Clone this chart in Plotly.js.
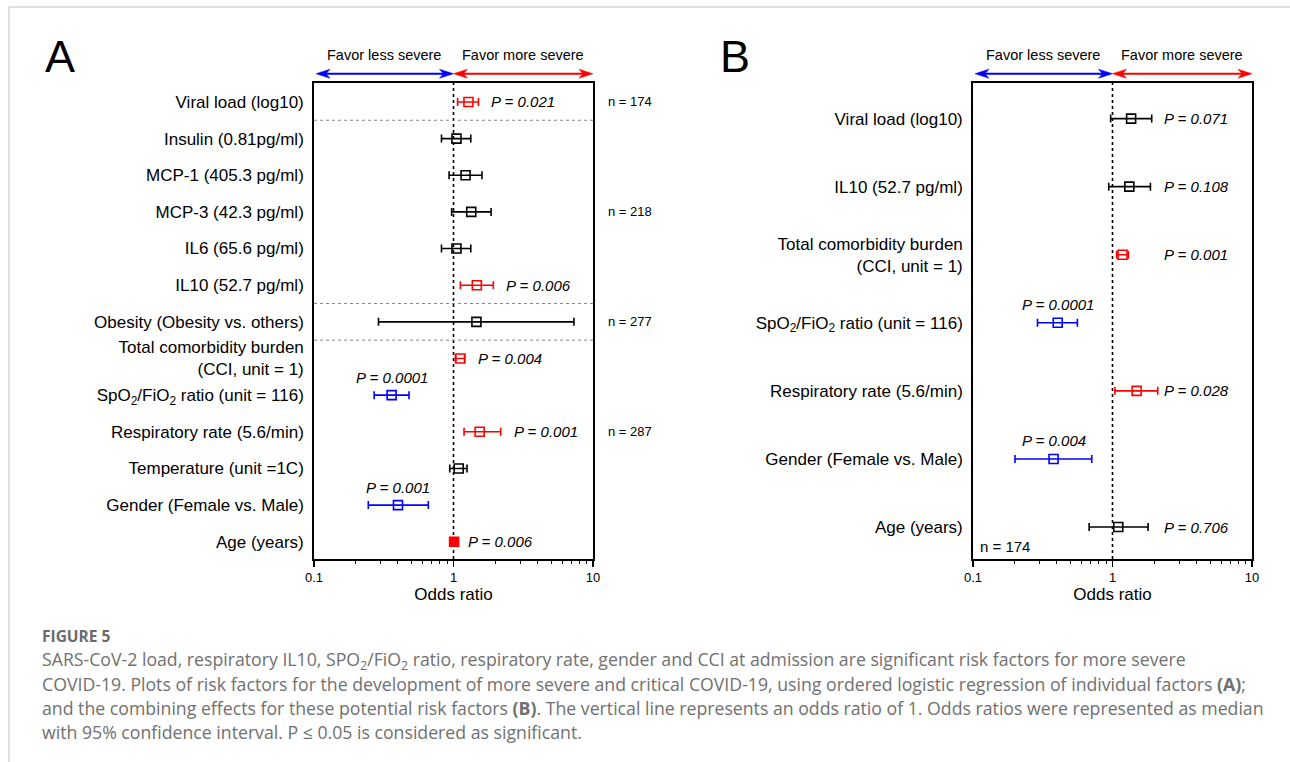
<!DOCTYPE html>
<html>
<head>
<meta charset="utf-8">
<script src="https://cdn.plot.ly/plotly-3.0.1.min.js"></script>
<style>html,body{margin:0;padding:0;background:#fff;}#chart{width:1290px;height:762px;}</style>
</head>
<body>
<div id="chart"></div>
<script>
// ---------- Data: Panel A (individual factors) ----------
const catA = [
  "Viral load (log10)",
  "Insulin (0.81pg/ml)",
  "MCP-1 (405.3 pg/ml)",
  "MCP-3 (42.3 pg/ml)",
  "IL6 (65.6 pg/ml)",
  "IL10 (52.7 pg/ml)",
  "Obesity (Obesity vs. others)",
  "Total comorbidity burden<br>(CCI, unit = 1)",
  "SpO<sub>2</sub>/FiO<sub>2</sub> ratio (unit = 116)",
  "Respiratory rate (5.6/min)",
  "Temperature (unit =1C)",
  "Gender (Female vs. Male)",
  "Age (years)"
];
const orA = [1.28, 1.05, 1.22, 1.34, 1.05, 1.47, 1.46, 1.12, 0.36, 1.54, 1.09, 0.40, 1.01];
const loA = [1.07, 0.82, 0.93, 0.97, 0.82, 1.12, 0.29, 1.03, 0.27, 1.19, 0.94, 0.245, 0.99];
const hiA = [1.51, 1.33, 1.60, 1.86, 1.33, 1.93, 7.30, 1.20, 0.48, 2.18, 1.25, 0.66, 1.03];
const pA  = ["0.021", "", "", "", "", "0.006", "", "0.004", "0.0001", "0.001", "", "0.001", "0.006"];
const nRowsA = ["Viral load (log10)", "MCP-3 (42.3 pg/ml)", "Obesity (Obesity vs. others)", "Respiratory rate (5.6/min)"];
const nValsA = [174, 218, 277, 287];

// ---------- Data: Panel B (combined model) ----------
const catB = [
  "Viral load (log10)",
  "IL10 (52.7 pg/ml)",
  "Total comorbidity burden<br>(CCI, unit = 1)",
  "SpO<sub>2</sub>/FiO<sub>2</sub> ratio (unit = 116)",
  "Respiratory rate (5.6/min)",
  "Gender (Female vs. Male)",
  "Age (years)"
];
const orB = [1.36, 1.32, 1.18, 0.405, 1.49, 0.378, 1.10];
const loB = [0.97, 0.94, 1.07, 0.29, 1.04, 0.20, 0.68];
const hiB = [1.91, 1.87, 1.30, 0.56, 2.11, 0.71, 1.80];
const pB  = ["0.071", "0.108", "0.001", "0.0001", "0.028", "0.004", "0.706"];
const nB = 174;

const xTicks = [0.1, 1, 10];
const xTickText = ["0.1", "1", "10"];

// ---------- Helpers ----------
const W = 1290, H = 762;
const px = v => v / W;
const py = v => 1 - v / H;
const FONT = "Liberation Sans, Arial, sans-serif";
const AX = {x: [314, 593], x2: [973, 1252]};   // plot box pixel extents
function colorFor(p, or) {
  const v = parseFloat(p);
  if (!isNaN(v) && v <= 0.05) return or > 1 ? "#ff0000" : "#0000ff";
  return "#000000";
}
const minorVals = [];
[0.1, 1].forEach(d => { for (let k = 2; k <= 9; k++) minorVals.push(d * k); });

const traces = [];
const annotations = [];
const shapes = [];

function valToPx(xa, v) {
  const [a, b] = AX[xa];
  return a + (Math.log10(v) + 1) / 2 * (b - a);
}
function arrow(x0, x1, y, col) {
  const L = 14, hw = 4.5;
  shapes.push({type: "line", xref: "paper", yref: "paper", x0: px(x0 + 4), x1: px(x1 - 4), y0: py(y), y1: py(y),
    line: {color: col, width: 2}});
  const tri = (tip, dir) => "M" + px(tip) + "," + py(y) + " L" + px(tip + dir * L) + "," + py(y - hw) +
    " L" + px(tip + dir * (L - 4)) + "," + py(y) + " L" + px(tip + dir * L) + "," + py(y + hw) + " Z";
  shapes.push({type: "path", xref: "paper", yref: "paper", path: tri(x0, 1), fillcolor: col, line: {color: col, width: 0.5}});
  shapes.push({type: "path", xref: "paper", yref: "paper", path: tri(x1, -1), fillcolor: col, line: {color: col, width: 0.5}});
}

function addPanel(cats, ors, los, his, ps, xa, ya, pColumn) {
  cats.forEach((c, i) => {
    const col = colorFor(ps[i], ors[i]);
    const tight = (his[i] - los[i]) / ors[i] < 0.06;   // very narrow CI: box drawn solid, as in the original
    traces.push({
      type: "scatter", mode: "markers",
      x: [ors[i]], y: [c], xaxis: xa, yaxis: ya,
      marker: {symbol: tight ? "square" : "square-open", size: 9, color: col, line: {width: 1.6, color: col}},
      error_x: {type: "data", symmetric: false, array: [his[i] - ors[i]], arrayminus: [ors[i] - los[i]],
                color: col, thickness: 1.6, width: 4},
      showlegend: false, hoverinfo: "x+y"
    });
    if (ps[i]) {
      const txt = "<i>P = " + ps[i] + "</i>";
      const f = {family: FONT, size: 15, color: "#000"};
      if (ors[i] < 1) {
        annotations.push({xref: xa, yref: ya, x: Math.log10(ors[i]), y: c, text: txt, showarrow: false,
          xanchor: "center", yanchor: "middle", yshift: 18, font: f});
      } else if (pColumn) {
        annotations.push({xref: xa, yref: ya, x: Math.log10(pColumn), y: c, text: txt, showarrow: false,
          xanchor: "left", yanchor: "middle", font: f});
      } else {
        annotations.push({xref: xa, yref: ya, x: Math.log10(his[i]), y: c, text: txt, showarrow: false,
          xanchor: "left", yanchor: "middle", xshift: 11, font: f});
      }
    }
  });
  // reference line at OR = 1
  shapes.push({type: "line", xref: xa, yref: ya + " domain", x0: 1, x1: 1, y0: 0, y1: 1,
               line: {color: "#000", width: 1.6, dash: "dot"}, layer: "below"});
  // favour arrows + labels
  const lo = valToPx(xa, 0.1), mid = valToPx(xa, 1), hi = valToPx(xa, 10);
  arrow(lo + 2, mid, 73.7, "#0000ff");
  arrow(mid, hi, 73.7, "#ff0000");
  annotations.push({xref: xa, yref: "paper", x: -0.5, y: py(55), text: "Favor less severe", showarrow: false,
    xanchor: "center", yanchor: "middle", font: {family: FONT, size: 14.5, color: "#000"}});
  annotations.push({xref: xa, yref: "paper", x: 0.5, y: py(55), text: "Favor more severe", showarrow: false,
    xanchor: "center", yanchor: "middle", font: {family: FONT, size: 14.5, color: "#000"}});
}

addPanel(catA, orA, loA, hiA, pA, "x", "y", null);
addPanel(catB, orB, loB, hiB, pB, "x2", "y2", 2.25);

// Separators in panel A
[0.5, 5.5, 6.5].forEach(v => shapes.push({type: "line", xref: "x domain", yref: "y", x0: 0, x1: 1, y0: v, y1: v,
  line: {color: "#888", width: 1, dash: "dot"}, layer: "below"}));

// n labels
nRowsA.forEach((r, i) => annotations.push({xref: "paper", yref: "y", x: px(606), y: r, text: "n = " + nValsA[i],
  showarrow: false, xanchor: "left", yanchor: "middle", font: {family: FONT, size: 13, color: "#000"}}));
annotations.push({xref: "paper", yref: "paper", x: px(978), y: py(546.5), text: "n = " + nB, showarrow: false,
  xanchor: "left", yanchor: "middle", font: {family: FONT, size: 15, color: "#000"}});

// Panel letters
annotations.push({xref: "paper", yref: "paper", x: px(60), y: py(57), text: "A", showarrow: false,
  xanchor: "center", yanchor: "middle", font: {family: FONT, size: 45, color: "#000"}});
annotations.push({xref: "paper", yref: "paper", x: px(735), y: py(57), text: "B", showarrow: false,
  xanchor: "center", yanchor: "middle", font: {family: FONT, size: 45, color: "#000"}});

// Caption
const CAP = "Open Sans, Noto Sans, sans-serif";
const capLines = [
  "SARS-CoV-2 load, respiratory IL10, SPO<sub>2</sub>/FiO<sub>2</sub> ratio, respiratory rate, gender and CCI at admission are significant risk factors for more severe",
  "COVID-19. Plots of risk factors for the development of more severe and critical COVID-19, using ordered logistic regression of individual factors <b>(A)</b>;",
  "and the combining effects for these potential risk factors <b>(B)</b>. The vertical line represents an odds ratio of 1. Odds ratios were represented as median",
  "with 95% confidence interval. P \u2264 0.05 is considered as significant."
];
annotations.push({xref: "paper", yref: "paper", x: px(40), y: py(636), text: "<b>FIGURE 5</b>", showarrow: false,
  xanchor: "left", yanchor: "middle", font: {family: CAP, size: 15.5, color: "#6b6b6b"}});
capLines.forEach((t, i) => annotations.push({xref: "paper", yref: "paper", x: px(40), y: py(660 + 24 * i), text: t,
  showarrow: false, xanchor: "left", yanchor: "middle", font: {family: CAP, size: 17.7, color: "#707070"}}));

// Frame lines (page border)
shapes.push({type: "line", xref: "paper", yref: "paper", x0: px(9), x1: 1, y0: py(7), y1: py(7), line: {color: "#d6d6d6", width: 1.5}});
shapes.push({type: "line", xref: "paper", yref: "paper", x0: px(9), x1: px(9), y0: py(7), y1: 0, line: {color: "#d6d6d6", width: 1.5}});

function xAxis(domain, anchor) {
  return {
    domain: domain, anchor: anchor, type: "log", range: [-1, 1],
    tickvals: xTicks, ticktext: xTickText, ticks: "outside", ticklen: 6, tickwidth: 1.5, tickcolor: "#000",
    minor: {tickvals: minorVals, ticks: "outside", ticklen: 3, tickwidth: 1, tickcolor: "#000", showgrid: false},
    showgrid: false, zeroline: false, showline: true, linecolor: "#000", linewidth: 1.8, mirror: true,
    tickfont: {family: FONT, size: 13, color: "#000"},
    title: {text: "Odds ratio", font: {family: FONT, size: 17, color: "#000"}, standoff: 4}
  };
}
function yAxis(domain, anchor, cats, range) {
  return {
    domain: domain, anchor: anchor, type: "category", categoryorder: "array", categoryarray: cats,
    range: range, showgrid: false, zeroline: false, showline: true, linecolor: "#000", linewidth: 1.8, mirror: true,
    ticks: "", ticklabelstandoff: 5, tickfont: {family: FONT, size: 17, color: "#000"}
  };
}
const yDom = [1 - 559 / H, 1 - 82.5 / H];
const layout = {
  width: W, height: H, margin: {l: 0, r: 0, t: 0, b: 0},
  paper_bgcolor: "#fff", plot_bgcolor: "#fff", showlegend: false,
  xaxis: xAxis([px(AX.x[0]), px(AX.x[1])], "y"),
  yaxis: yAxis(yDom, "x", catA, [12.47, -0.53]),
  xaxis2: xAxis([px(AX.x2[0]), px(AX.x2[1])], "y2"),
  yaxis2: yAxis(yDom, "x2", catB, [6.47, -0.53]),
  annotations: annotations, shapes: shapes
};
Plotly.newPlot("chart", traces, layout, {displayModeBar: false, staticPlot: true});
</script>
</body>
</html>
